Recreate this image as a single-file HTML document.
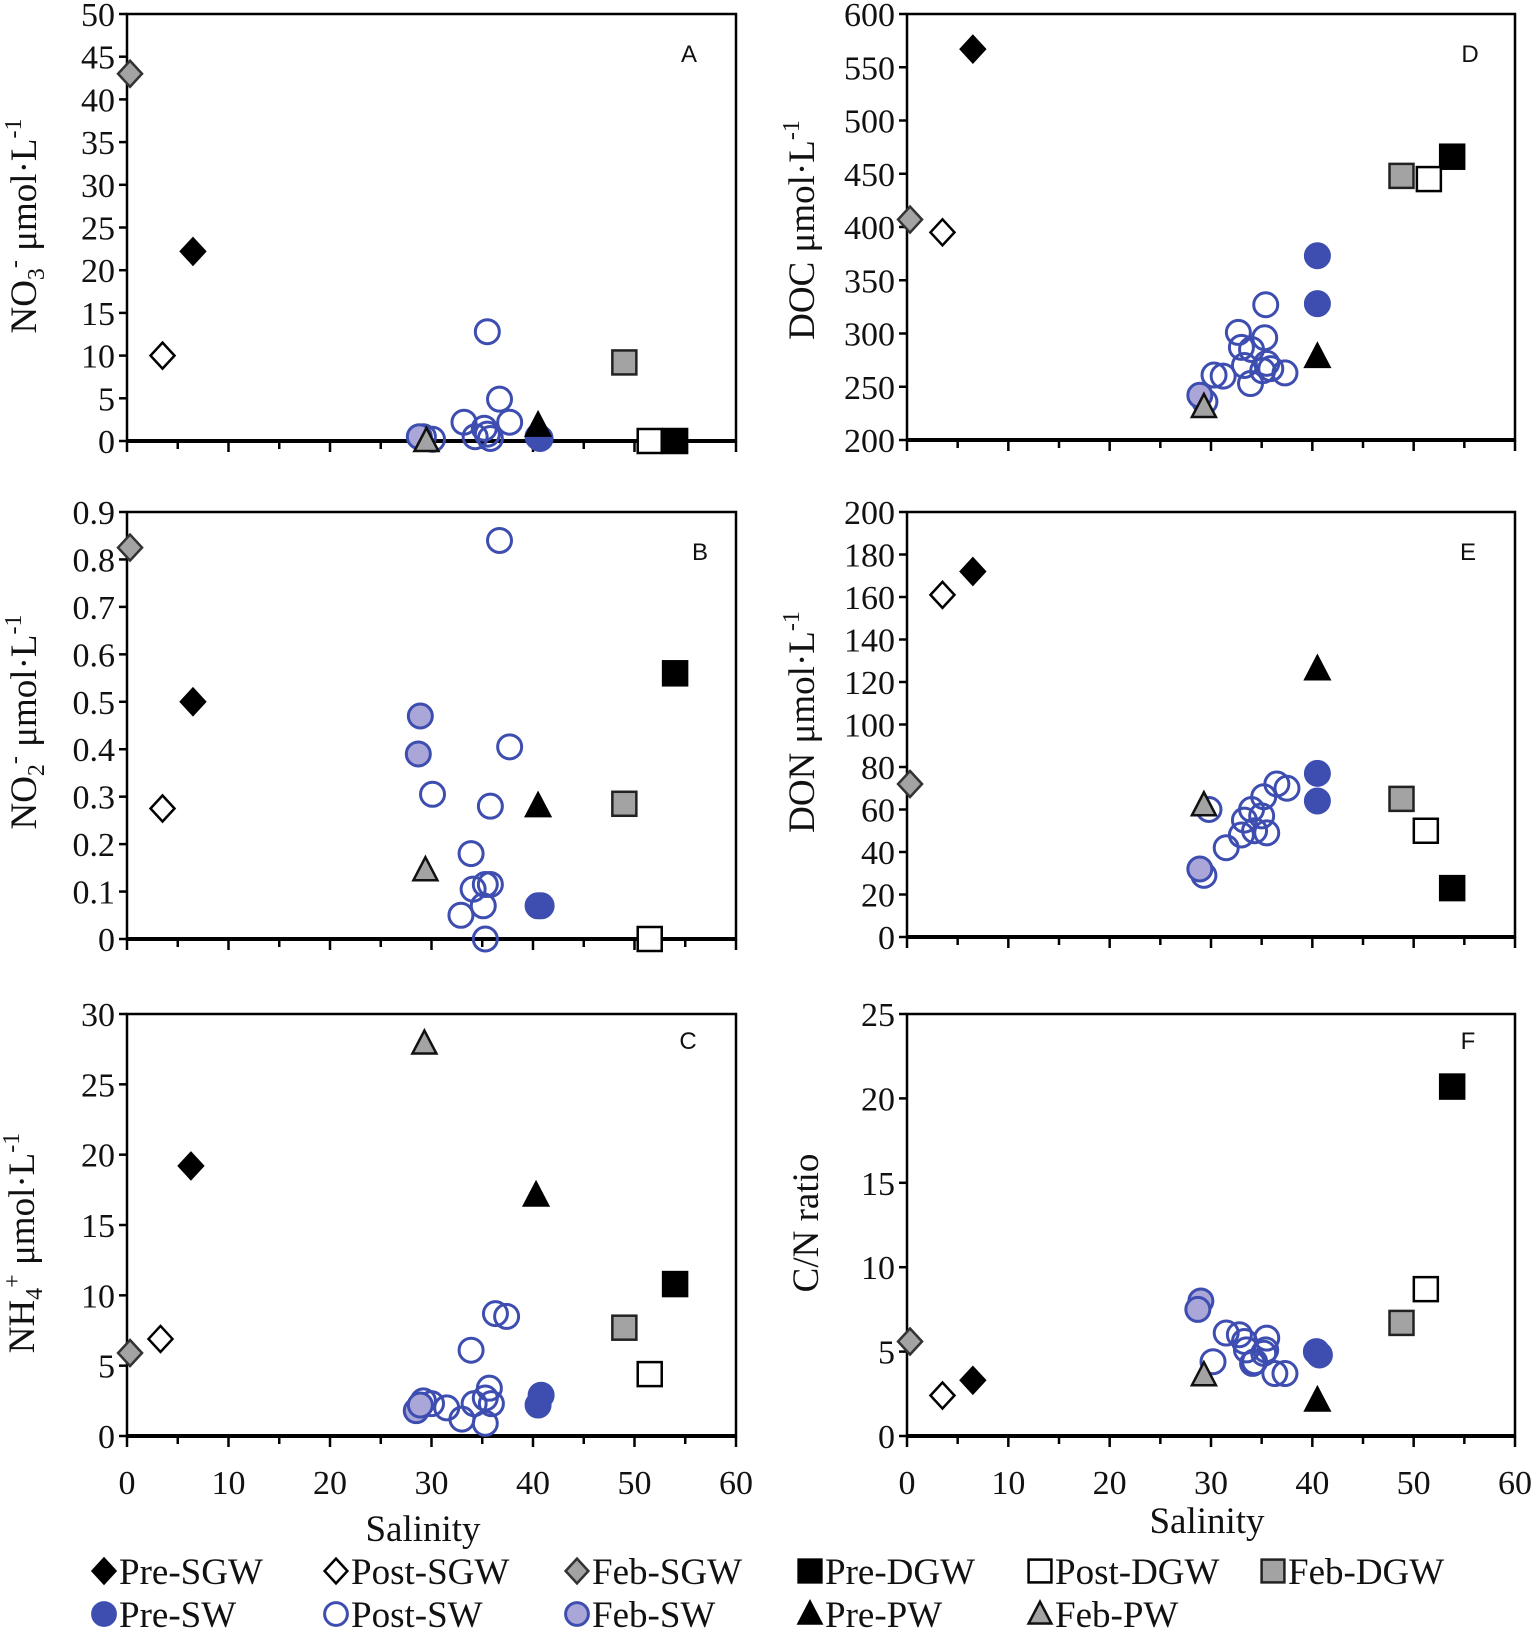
<!DOCTYPE html>
<html><head><meta charset="utf-8"><style>
body{margin:0;background:#fff}
svg{display:block}
.t{font-family:"Liberation Serif",serif;font-size:34px;fill:#111}
.lg{font-family:"Liberation Serif",serif;font-size:37px;fill:#111}
.pl{font-family:"Liberation Sans",sans-serif;font-size:24px;fill:#111}
</style></head><body>
<svg id="chart" width="1535" height="1642" viewBox="0 0 1535 1642"></svg>
<script>
// ---- data (salinity, value) ----
const seriesNames=["Pre-SW","Post-SW","Feb-SW","Pre-SGW","Post-SGW","Feb-SGW","Pre-DGW","Post-DGW","Feb-DGW","Pre-PW","Feb-PW"];
const A_NO3={
"Pre-SGW":[[6.5,22.2]],"Post-SGW":[[3.5,10]],"Feb-SGW":[[0.3,43]],
"Pre-DGW":[[54,0]],"Post-DGW":[[51.5,0]],"Feb-DGW":[[49,9.2]],
"Pre-SW":[[40.5,0.5],[40.7,0.3]],
"Post-SW":[[35.5,12.8],[36.7,4.9],[37.7,2.2],[33.2,2.2],[35.2,1.5],[34.3,0.5],[35.8,0.3],[29.2,0.5],[30.1,0.2],[35.5,0.8]],
"Feb-SW":[[28.8,0.5]],"Pre-PW":[[40.5,1.8]],"Feb-PW":[[29.5,0]]};
const B_NO2={
"Pre-SGW":[[6.5,0.5]],"Post-SGW":[[3.5,0.275]],"Feb-SGW":[[0.3,0.825]],
"Pre-DGW":[[54,0.56]],"Post-DGW":[[51.5,0]],"Feb-DGW":[[49,0.285]],
"Pre-SW":[[40.5,0.07],[40.8,0.07]],
"Post-SW":[[36.7,0.84],[37.7,0.405],[30.1,0.305],[35.8,0.28],[33.9,0.18],[34.1,0.105],[35.3,0.115],[35.8,0.115],[35.1,0.07],[32.9,0.05],[35.3,0.0]],
"Feb-SW":[[28.9,0.47],[28.7,0.39]],"Pre-PW":[[40.5,0.28]],"Feb-PW":[[29.4,0.145]]};
const C_NH4={
"Pre-SGW":[[6.3,19.2]],"Post-SGW":[[3.3,6.9]],"Feb-SGW":[[0.3,5.9]],
"Pre-DGW":[[54,10.8]],"Post-DGW":[[51.5,4.4]],"Feb-DGW":[[49,7.7]],
"Pre-SW":[[40.5,2.2],[40.8,2.9]],
"Post-SW":[[36.3,8.7],[37.4,8.5],[33.9,6.1],[35.7,3.4],[35.3,2.7],[34.2,2.3],[35.9,2.3],[31.5,2.0],[33.0,1.2],[35.3,0.9],[30.0,2.3],[29.2,2.5]],
"Feb-SW":[[28.5,1.8],[28.9,2.2]],"Pre-PW":[[40.3,17.1]],"Feb-PW":[[29.3,27.9]]};
const D_DOC={
"Pre-SGW":[[6.5,567]],"Post-SGW":[[3.5,395]],"Feb-SGW":[[0.3,407]],
"Pre-DGW":[[53.8,466]],"Post-DGW":[[51.5,445]],"Feb-DGW":[[48.8,448]],
"Pre-SW":[[40.5,373],[40.5,328]],
"Post-SW":[[35.4,327],[32.7,301],[35.3,296],[33.0,287],[34.0,285],[33.3,270],[35.5,272],[35.9,267],[37.3,263],[35.1,265],[31.2,260],[30.3,261],[33.9,253],[29.4,236]],
"Feb-SW":[[28.9,242]],"Pre-PW":[[40.5,278]],"Feb-PW":[[29.3,231]]};
const E_DON={
"Pre-SGW":[[6.5,172]],"Post-SGW":[[3.5,161]],"Feb-SGW":[[0.3,72]],
"Pre-DGW":[[53.8,23]],"Post-DGW":[[51.2,50]],"Feb-DGW":[[48.8,65]],
"Pre-SW":[[40.5,77],[40.5,64]],
"Post-SW":[[36.5,72],[37.5,70],[35.2,66],[34.0,60],[35.0,57],[33.3,55],[34.3,50],[35.5,49],[33.0,48],[31.5,42],[29.8,60],[29.3,29]],
"Feb-SW":[[28.9,32]],"Pre-PW":[[40.5,126]],"Feb-PW":[[29.3,62]]};
const F_CN={
"Pre-SGW":[[6.5,3.3]],"Post-SGW":[[3.5,2.4]],"Feb-SGW":[[0.3,5.6]],
"Pre-DGW":[[53.8,20.7]],"Post-DGW":[[51.2,8.7]],"Feb-DGW":[[48.8,6.7]],
"Pre-SW":[[40.4,5.0],[40.7,4.8]],
"Post-SW":[[31.5,6.1],[32.8,6.0],[33.3,5.6],[35.5,5.8],[33.5,5.1],[35.4,5.1],[34.3,4.4],[35.2,4.9],[34.1,4.3],[36.3,3.7],[37.3,3.7],[30.2,4.4]],
"Feb-SW":[[29.0,8.0],[28.7,7.5]],"Pre-PW":[[40.5,2.1]],"Feb-PW":[[29.3,3.6]]};
const xTicks=[0,10,20,30,40,50,60];
const ticksA=[0,5,10,15,20,25,30,35,40,45,50];
const ticksB=[0,0.1,0.2,0.3,0.4,0.5,0.6,0.7,0.8,0.9];
const ticksC=[0,5,10,15,20,25,30];
const ticksD=[200,250,300,350,400,450,500,550,600];
const ticksE=[0,20,40,60,80,100,120,140,160,180,200];
const ticksF=[0,5,10,15,20,25];

const NS="http://www.w3.org/2000/svg";
const svg=document.getElementById('chart');
function mk(tag,attrs,parent){const e=document.createElementNS(NS,tag);for(const k in attrs)e.setAttribute(k,attrs[k]);(parent||svg).appendChild(e);return e;}
const BLUE="#3d4db0";
const style={
"Pre-SGW":["d","#000","#000"],"Post-SGW":["d","#fff","#000"],"Feb-SGW":["d","#a3a3a3","#333"],
"Pre-DGW":["s","#000","#000"],"Post-DGW":["s","#fff","#000"],"Feb-DGW":["s","#a3a3a3","#222"],
"Pre-SW":["c",BLUE,BLUE],"Post-SW":["c","none",BLUE],"Feb-SW":["c","#aaa7d8",BLUE],
"Pre-PW":["t","#000","#000"],"Feb-PW":["t","#a3a3a3","#111"]};
function marker(g,type,x,y,fill,stroke,s){
  s=s||1;let e;
  if(type==="d"){e=mk('polygon',{points:`${x},${y-13*s} ${x+12*s},${y} ${x},${y+13*s} ${x-12*s},${y}`,fill:fill,stroke:stroke,'stroke-width':2.5},g);}
  else if(type==="s"){e=mk('rect',{x:x-12*s,y:y-12*s,width:24*s,height:24*s,fill:fill,stroke:stroke,'stroke-width':2.5},g);}
  else if(type==="c"){e=mk('circle',{cx:x,cy:y,r:12*s,fill:fill,stroke:stroke,'stroke-width':3},g);}
  else {e=mk('polygon',{points:`${x},${y-13*s} ${x+12*s},${y+10*s} ${x-12*s},${y+10*s}`,fill:fill,stroke:stroke,'stroke-width':2.5},g);}
  return e;
}
function panel(id,data,ticks,x0,x1,y0,y1,letter,lx,ly,showX){
  const g=mk('g',{});
  
  
  const ymin=ticks[0],ymax=ticks[ticks.length-1];
  const X=v=>x0+(v-0)/(60-0)*(x1-x0);
  const Y=v=>y1-(v-ymin)/(ymax-ymin)*(y1-y0);
  const box=mk('rect',{x:x0,y:y0,width:x1-x0,height:y1-y0,fill:'none',stroke:'#000','stroke-width':2.5},g);
  
  const xa=mk('line',{x1:x0,x2:x1,y1:y1,y2:y1,stroke:'#000','stroke-width':4},g);
  
  for(let v=0;v<=60;v+=5){const major=v%10===0;
    mk('line',{x1:X(v),x2:X(v),y1:y1,y2:y1+(major?11:8),stroke:'#000','stroke-width':2.5},g);}
  if(showX){xTicks.forEach(v=>{const t=mk('text',{x:X(v),y:y1+58,'text-anchor':'middle',class:'t'},g);t.textContent=v;
    });}
  ticks.forEach(v=>{mk('line',{x1:x0-8,x2:x0,y1:Y(v),y2:Y(v),stroke:'#000','stroke-width':2.5},g);
    const t=mk('text',{x:x0-12,y:Y(v)+12,'text-anchor':'end',class:'t'},g);t.textContent=v;
    });
  const L=mk('text',{x:lx,y:ly,'text-anchor':'middle',class:'pl'},g);L.textContent=letter;
  
  seriesNames.forEach(n=>{const st=style[n];(data[n]||[]).forEach(p=>{
    const m=marker(g,st[0],X(p[0]),Y(p[1]),st[1],st[2]);
    
    });});
}
const LX0=127,LX1=736,RX0=907,RX1=1515;
panel('a',A_NO3,ticksA,LX0,LX1,14,441,'A',689,62,false);
panel('b',B_NO2,ticksB,LX0,LX1,512,939,'B',700,560,false);
panel('c',C_NH4,ticksC,LX0,LX1,1014,1436,'C',688,1049,true);
panel('d',D_DOC,ticksD,RX0,RX1,14,440,'D',1470,62,false);
panel('e',E_DON,ticksE,RX0,RX1,512,937,'E',1468,560,false);
panel('f',F_CN,ticksF,RX0,RX1,1014,1436,'F',1468,1049,true);

// axis titles
function ytitle(name,x,y,html){const t=mk('text',{transform:`translate(${x},${y}) rotate(-90)`,'text-anchor':'middle',class:'t',style:'font-size:37px'});t.innerHTML=html;
  }
ytitle('y-axis-title-no3',36,226,'NO<tspan font-size="24" dy="8">3</tspan><tspan font-size="24" dy="-22">-</tspan><tspan dy="14"> μmol·L</tspan><tspan font-size="24" dy="-15">-1</tspan>');
ytitle('y-axis-title-no2',36,722,'NO<tspan font-size="24" dy="8">2</tspan><tspan font-size="24" dy="-22">-</tspan><tspan dy="14"> μmol·L</tspan><tspan font-size="24" dy="-15">-1</tspan>');
ytitle('y-axis-title-nh4',34,1243,'NH<tspan font-size="24" dy="8">4</tspan><tspan font-size="24" dy="-22">+</tspan><tspan dy="14"> μmol·L</tspan><tspan font-size="24" dy="-15">-1</tspan>');
ytitle('y-axis-title-doc',814,230,'DOC μmol·L<tspan font-size="24" dy="-15">-1</tspan>');
ytitle('y-axis-title-don',814,722,'DON μmol·L<tspan font-size="24" dy="-15">-1</tspan>');
ytitle('y-axis-title-cn',818,1223,'C/N ratio');
function xt(x,y){const t=mk('text',{x:x,y:y,'text-anchor':'middle',class:'t',style:'font-size:37px'});t.textContent='Salinity';
  }
xt(423,1541);xt(1207,1533);

// legend
const legendItems=[["Pre-SGW",104,1571],["Post-SGW",336,1571],["Feb-SGW",577,1571],["Pre-DGW",810,1571],["Post-DGW",1040,1571],["Feb-DGW",1273,1571],
["Pre-SW",104,1614],["Post-SW",336,1614],["Feb-SW",577,1614],["Pre-PW",810,1614],["Feb-PW",1040,1614]];
legendItems.forEach(it=>{const g=mk('g',{});
  
  
  const st=style[it[0]];marker(g,st[0],it[1],it[2],st[1],st[2],0.95);
  const t=mk('text',{x:it[1]+15,y:it[2]+13,class:'lg'},g);t.textContent=it[0];});
</script>
</body></html>
